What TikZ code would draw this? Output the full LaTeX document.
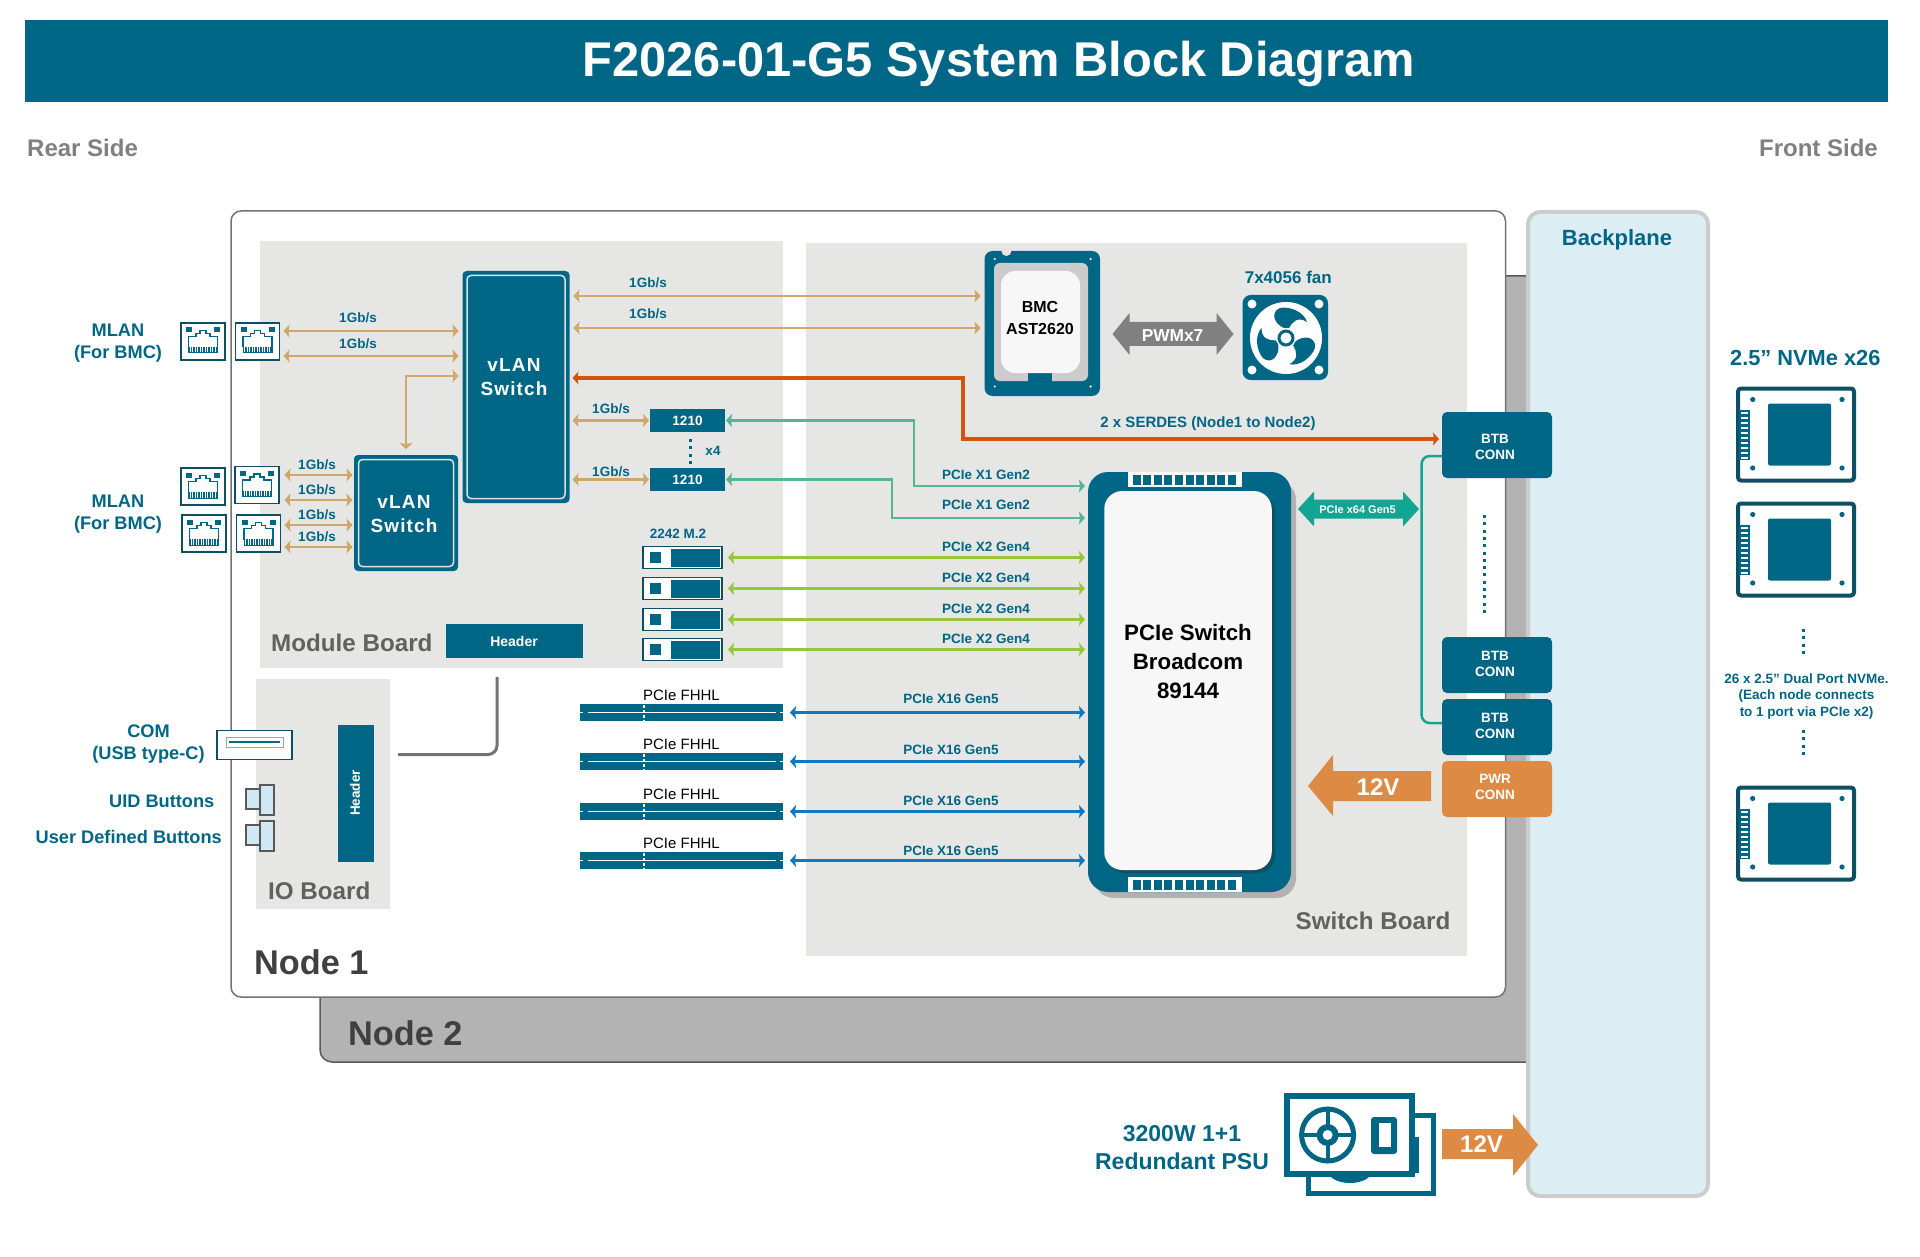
\documentclass[tikz,border=0pt]{standalone}
\usepackage{fontspec}
\setmainfont{Liberation Sans}
\usetikzlibrary{arrows.meta}

\definecolor{tealc}{HTML}{006685}
\definecolor{darkteal}{HTML}{0E4F63}
\definecolor{boardgray}{HTML}{E6E6E4}
\definecolor{nodegray}{HTML}{B3B3B3}
\definecolor{tanc}{HTML}{CFA66B}
\definecolor{serdesc}{HTML}{D2550D}
\definecolor{xonec}{HTML}{55B597}
\definecolor{xtwoc}{HTML}{96C63A}
\definecolor{xsixc}{HTML}{0F78C1}
\definecolor{fatc}{HTML}{12A594}
\definecolor{pwrc}{HTML}{DC8A44}
\definecolor{backc}{HTML}{DCEDF4}
\definecolor{btnc}{HTML}{CFE8F3}

\newcommand{\fs}[2]{\fontsize{#1}{#2}\selectfont}

\tikzset{
    x=1pt, y=-1pt,
    box/.style={inner sep=0pt, outer sep=0pt, fill=tealc},
    lbl/.style={inner sep=0pt, text=tealc, align=center, font=\bfseries\fs{13.5}{16}},
    midlbl/.style={lbl, font=\bfseries\fs{18.2}{22.5}},
    boardlbl/.style={inner sep=0pt, text=black!62, font=\bfseries\fs{24.2}{28}},
    nodelbl/.style={inner sep=0pt, text=black!75, font=\bfseries\fs{34.3}{38}},
    whitelbl/.style={inner sep=0pt, text=white, align=center, font=\bfseries\fs{13.5}{16}},
    rjbox/.style={inner sep=0pt, outer sep=0pt, fill=white, draw=darkteal, line width=1.8pt, minimum width=44pt, minimum height=37pt},
    mtwobox/.style={inner sep=0pt, outer sep=0pt, fill=white, draw=darkteal, line width=1.6pt, minimum width=79pt, minimum height=22pt},
    nvmebox/.style={inner sep=0pt, outer sep=0pt, fill=white, draw=darkteal, line width=4pt, rounded corners=3pt, minimum width=116pt, minimum height=92pt},
    link/.style={line width=2.9pt, {Stealth[length=6pt,width=13pt,inset=1pt]}-{Stealth[length=6pt,width=13pt,inset=1pt]}, shorten <=4pt, shorten >=4pt},
    dots/.style={line width=3pt, tealc, dash pattern=on 3pt off 4.3pt},
    rjjack/.pic={
        \fill[tealc] (-17,-14) rectangle (-11,-9);
        \fill[tealc] (11,-14) rectangle (17,-9);
        \draw[tealc, line width=1.2pt] (-14.5,6) -- (-14.5,-5) -- (-7,-5) -- (-7,-8) -- (-3,-8) -- (-3,-11) -- (3,-11) -- (3,-8) -- (7,-8) -- (7,-5) -- (14.5,-5) -- (14.5,6);
        \fill[tealc] (-15,5.5) rectangle (15,12);
        \foreach \i in {-13,-10.5,...,13}
            \draw[white, line width=0.8pt] (\i,5) -- (\i,11);
    },
    mtwoface/.pic={
        \fill[tealc] (-11.5,-9) rectangle (37.5,9);
        \fill[tealc] (-32.5,-6) rectangle (-21.5,5);
    },
    slotface/.pic={
        \draw[white, line width=1.8pt] (-94,0) -- (94,0);
        \draw[white, line width=1.8pt] (-101.5,0) -- (-98.5,0);
        \draw[white, line width=1.8pt] (98.5,0) -- (101.5,0);
        \draw[white, line width=1.4pt, dash pattern=on 3pt off 2pt] (-37.5,-8) -- (-37.5,8);
    },
    nvmeface/.pic={
        \fill[tealc, rounded corners=2pt] (-28,-31) rectangle (35,31);
        \foreach \px/\py in {-43.3/-35,46/-35,-43.3/33.5,46/33.5}
            \fill[tealc] (\px,\py) circle (2.6);
        \fill[tealc] (-57,-25) rectangle (-46,25);
        \foreach \py in {-23,-18,...,22}
            \fill[white] (-55,\py) rectangle (-48,\py+2.6);
    },
    fanblade/.pic={
        \fill[tealc] (-2,-10) .. controls (-12,-14) and (-16,-26) .. (-6,-30) .. controls (4,-32) and (18,-26) .. (21,-16) .. controls (12,-22) and (6,-16) .. (3,-10) -- cycle;
    }
}

\begin{document}
\begin{tikzpicture}
    \useasboundingbox (0,0) rectangle (1920,1257);

    \node (titlebar) [box, minimum width=1863pt, minimum height=82pt] at (956.5,61) {};
    \node (titletxt) [inner sep=0pt, text=white, font=\bfseries\fs{48.8}{54}] at (999,64) {F2026-01-G5 System Block Diagram};
    \node (rearlbl) [inner sep=0pt, anchor=west, text=black!50, font=\bfseries\fs{24}{28}] at (27,148) {Rear Side};
    \node (frontlbl) [inner sep=0pt, anchor=east, text=black!50, font=\bfseries\fs{24}{28}] at (1878,148) {Front Side};

    % chassis
    \draw[fill=nodegray, draw=black!65, line width=1.5pt, rounded corners=12pt] (320,276) rectangle (1560,1062);
    \draw[fill=white, draw=black!55, line width=1.5pt, rounded corners=10pt] (231,211) rectangle (1505.5,997);
    \draw[fill=backc, draw=black!20, line width=4pt, rounded corners=12pt] (1528,212) rectangle (1708,1196);
    \node (backlbl) [lbl, font=\bfseries\fs{22}{26}] at (1617,240) {Backplane};

    % boards
    \fill[boardgray] (260,241) rectangle (783,668);
    \fill[boardgray] (806,243) rectangle (1466.5,956);
    \fill[boardgray] (256,679) rectangle (390,909);
    \node (modlbl) [boardlbl, anchor=west] at (271,642.5) {Module Board};
    \node (swlbl) [boardlbl, anchor=east] at (1450.5,920.5) {Switch Board};
    \node (iolbl) [boardlbl, anchor=west] at (268,890.5) {IO Board};
    \node (nodeonelbl) [nodelbl, anchor=west] at (254,962) {Node 1};
    \node (nodetwolbl) [nodelbl, anchor=west] at (348,1033) {Node 2};

    % headers
    \node (hdrmod) [box, minimum width=137pt, minimum height=34pt, text=white, font=\bfseries\fs{14}{16}] at (514,641) {Header};
    \node (hdrio) [box, minimum width=36pt, minimum height=137pt] at (356,793.5) {};
    \node (hdriotxt) [rotate=90, inner sep=0pt, text=white, font=\bfseries\fs{13.5}{16}] at (355,793) {Header};
    \coordinate (ioend) at (398,754.5);
    \coordinate (modend) at (497,677);
    \draw[black!55, line width=3pt, rounded corners=9pt] (ioend) -| (modend);

    % left side
    \node (mlanone) [midlbl] at (118,343) {MLAN\\(For BMC)};
    \node (mlantwo) [midlbl] at (118,514) {MLAN\\(For BMC)};
    \foreach \n/\px/\py in {a/203/341.5, b/257.5/341.5, c/203/486.5, d/257/485, e/204/533.5, f/258.5/533.5} {
        \node (rj\n) [rjbox] at (\px,\py) {};
        \pic at (rj\n) {rjjack};
    }
    \node (comlbl) [midlbl] at (148.5,744) {COM\\(USB type-C)};
    \node (uidlbl) [midlbl, anchor=east] at (214.5,801) {UID Buttons};
    \node (userlbl) [midlbl, anchor=east] at (222,837) {User Defined Buttons};
    \node (usb) [rjbox, minimum width=75pt, minimum height=29pt] at (254.5,745) {};
    \draw[fill=white, draw=tealc!50, line width=1pt] (226.5,737) rectangle (283,747);
    \draw[tealc, line width=1.6pt] (229,742) -- (280,742);
    \foreach \py in {785,821} {
        \draw[fill=btnc, draw=black!65, line width=1.2pt] (246,\py+4) rectangle (260,\py+24);
        \draw[fill=btnc, draw=black!65, line width=1.2pt] (260,\py) rectangle (274,\py+30);
    }

    % vlan switches
    \node (vlanbig) [box, rounded corners=4pt, minimum width=107pt, minimum height=232pt] at (516,387) {};
    \draw[black!12, line width=1.5pt, rounded corners=4pt] (467,275.5) rectangle (565,498.5);
    \node (vlanbigtxt) [inner sep=0pt, text=white, align=center, font=\bfseries\fs{19}{23.5}\addfontfeatures{LetterSpace=6}] at (514,377) {vLAN\\Switch};
    \node (vlansmall) [box, rounded corners=4pt, minimum width=104pt, minimum height=116pt] at (406,513) {};
    \draw[black!12, line width=1.5pt, rounded corners=4pt] (358.5,459.5) rectangle (453.5,566.5);
    \node (vlansmalltxt) [inner sep=0pt, text=white, align=center, font=\bfseries\fs{19}{23.5}\addfontfeatures{LetterSpace=6}] at (404,514) {vLAN\\Switch};

    % 1Gb/s links
    \draw[link, tanc] (rjb.east |- 0,331) -- (vlanbig.west |- 0,331);
    \draw[link, tanc] (rjb.east |- 0,356) -- (vlanbig.west |- 0,356);
    \node (gba) [lbl] at (358,318) {1Gb/s};
    \node (gbb) [lbl] at (358,344) {1Gb/s};
    \draw[link, tanc, shorten >=6pt] (vlanbig.west |- 0,376) -| (vlansmall.north);
    \foreach \n/\py in {a/475,b/500,c/525,d/547} {
        \draw[link, tanc, shorten >=1.5pt] (rjf.east |- 0,\py) -- (vlansmall.west |- 0,\py);
        \node (gbs\n) [lbl] at (317,\py-10) {1Gb/s};
    }
    \node (bmc) [box, rounded corners=8pt, minimum width=115.5pt, minimum height=145pt] at (1042.25,323.5) {};
    \fill[boardgray] (1006.4,251) circle (5);
    \fill[black!20, rounded corners=6pt] (994,263) rectangle (1088,381);
    \fill[tealc] (1028,373) rectangle (1052,383);
    \node (bmccore) [box, fill=white!97!black, rounded corners=14pt, minimum width=79pt, minimum height=102pt] at (1040.5,322) {};
    \foreach \px/\py in {994.7/259,1090.6/259,994.7/386.5,1090.6/386.5}
        \fill[white] (\px,\py) circle (1.2);
    \node (bmctxt) [inner sep=0pt, align=center, font=\bfseries\fs{16}{22}] at (1040,318) {BMC\\AST2620};
    \draw[link, tanc] (vlanbig.east |- 0,296) -- (bmc.west |- 0,296);
    \draw[link, tanc] (vlanbig.east |- 0,328) -- (bmc.west |- 0,328);
    \node (gbc) [lbl] at (648,283) {1Gb/s};
    \node (gbd) [lbl] at (648,314) {1Gb/s};

    % 1210 controllers
    \node (ica) [box, minimum width=75pt, minimum height=23pt] at (687.5,420.5) {};
    \node (icb) [box, minimum width=75pt, minimum height=23pt] at (687.5,479.5) {};
    \node (icatxt) [whitelbl] at (ica) {1210};
    \node (icbtxt) [whitelbl] at (icb) {1210};
    \draw[dots] (690,439) -- (690,464);
    \node (xfour) [lbl] at (713,451) {x4};
    \draw[link, tanc, shorten <=3pt, shorten >=1pt] (vlanbig.east |- ica.west) -- (ica.west);
    \draw[link, tanc, shorten <=3pt, shorten >=1pt] (vlanbig.east |- icb.west) -- (icb.west);
    \node (gbe) [lbl] at (611,409) {1Gb/s};
    \node (gbf) [lbl] at (611,472) {1Gb/s};

    % pcie switch
    \fill[black!30, rounded corners=20pt] (1094,480) rectangle (1296,898);
    \node (pcisw) [box, rounded corners=20pt, minimum width=203pt, minimum height=420pt] at (1189.5,682) {};
    \fill[darkteal, rounded corners=18pt] (1108,494) rectangle (1275,873);
    \node (pcicore) [box, fill=white!97!black, rounded corners=18pt, minimum width=167.5pt, minimum height=379pt] at (1188,680.5) {};
    \node (pcitxt) [inner sep=0pt, align=center, font=\bfseries\fs{22.3}{29}] at (1188,662) {PCIe Switch\\Broadcom\\89144};
    \foreach \py in {472,877} {
        \fill[white] (1128,\py) rectangle (1242,\py+15);
        \foreach \i in {0,...,9}
            \fill[tealc] (1132.6+\i*10.6,\py+3) rectangle (1140.6+\i*10.6,\py+13);
    }

    % pcie links
    \draw[link, xonec, shorten <=1pt, shorten >=3pt] (ica.east) -| (914,486) -- (pcisw.west |- 0,486);
    \draw[link, xonec, shorten <=1pt, shorten >=3pt] (icb.east) -| (892,518) -- (pcisw.west |- 0,518);
    \node (xonea) [lbl] at (986,475) {PCIe X1 Gen2};
    \node (xoneb) [lbl] at (986,505) {PCIe X1 Gen2};
    \node (mtwolbl) [lbl] at (678,534) {2242 M.2};
    \foreach \n/\py in {a/557.5,b/588.5,c/619.5,d/649.5} {
        \node (mtwo\n) [mtwobox] at (682.5,\py) {};
        \pic at (mtwo\n) {mtwoface};
        \draw[link, xtwoc, shorten <=6pt, shorten >=3pt] (mtwo\n.east) -- (pcisw.west |- mtwo\n.east);
        \node (xtwo\n) [lbl] at (986,\py-10.5) {PCIe X2 Gen4};
    }
    \foreach \n/\py/\ly in {a/712.5/699, b/761.5/749.5, c/811.5/800.5, d/860.5/850.5} {
        \node (slot\n) [box, minimum width=203pt, minimum height=17pt] at (681.5,\py) {};
        \pic at (slot\n) {slotface};
        \node (fhhl\n) [inner sep=0pt, font=\fs{15}{18}] at (681.5,\py-17) {PCIe FHHL};
        \draw[link, xsixc, shorten <=7pt, shorten >=3pt] (slot\n.east) -- (pcisw.west |- slot\n.east);
        \node (xsix\n) [lbl] at (951,\ly) {PCIe X16 Gen5};
    }

    % connectors to backplane
    \node (btba) [box, rounded corners=5pt, minimum width=110pt, minimum height=66pt] at (1497,445) {};
    \node (btbb) [box, rounded corners=5pt, minimum width=110pt, minimum height=56pt] at (1497,665) {};
    \node (btbc) [box, rounded corners=5pt, minimum width=110pt, minimum height=56pt] at (1497,727) {};
    \node (pwr) [box, fill=pwrc, rounded corners=5pt, minimum width=110pt, minimum height=56pt] at (1497,789) {};
    \node (btbatxt) [whitelbl] at (1495,446.5) {BTB\\CONN};
    \node (btbbtxt) [whitelbl] at (1495,664) {BTB\\CONN};
    \node (btbctxt) [whitelbl] at (1495,725.5) {BTB\\CONN};
    \node (pwrtxt) [whitelbl] at (1495,787) {PWR\\CONN};
    \draw[dots] (1484.5,515) -- (1484.5,614);
    \draw[fatc, line width=2.5pt, rounded corners=8pt] (btba.west |- 0,456) -- (1421.6,456) -- (1421.6,723) -- (btbc.west |- 0,723);
    \draw[link, serdesc, line width=3.5pt, shorten <=3pt, shorten >=3pt] (vlanbig.east |- 0,378) -| (963,439) -- (btba.west |- 0,439);
    \node (serdeslbl) [lbl, font=\bfseries\fs{15}{18}] at (1208,423.5) {2 x SERDES (Node1 to Node2)};

    % fat arrows
    \fill[fatc] (1298,509) -- (1314,491.5) -- (1314,499.5) -- (1403,499.5) -- (1403,491.5) -- (1419,509) -- (1403,526.5) -- (1403,518.5) -- (1314,518.5) -- (1314,526.5) -- cycle;
    \node (fatlbl) [inner sep=0pt, text=white, font=\bfseries\fs{11}{13}] at (1357.5,509.5) {PCIe x64 Gen5};
    \fill[black!50] (1112.5,334) -- (1129.5,313) -- (1129.5,322) -- (1216.5,322) -- (1216.5,313) -- (1233.5,334) -- (1216.5,355) -- (1216.5,346) -- (1129.5,346) -- (1129.5,355) -- cycle;
    \node (pwmlbl) [inner sep=0pt, text=white, font=\bfseries\fs{17.3}{20}] at (1172.5,336) {PWMx7};
    \fill[pwrc] (1308,786) -- (1333,755) -- (1333,771) -- (1431,771) -- (1431,801) -- (1333,801) -- (1333,816) -- cycle;
    \node (vinlbl) [inner sep=0pt, text=white, font=\bfseries\fs{24}{26}] at (1378,787) {12V};

    % fan
    \node (fan) [box, rounded corners=8pt, minimum width=85.4pt, minimum height=85pt] at (1285.3,337.5) {};
    \node (fanlbl) [lbl, font=\bfseries\fs{17}{20}] at (1288.3,277) {7x4056 fan};
    \fill[white] (1286,338) circle (36);
    \foreach \px/\py in {1252/304,1319/304,1252/370,1319/370}
        \fill[white] (\px,\py) circle (4.5);
    \foreach \r in {0,120,240}
        \pic[rotate=\r] at (1286,338) {fanblade};
    \draw[tealc, line width=3pt] (1286,338) circle (7);

    % nvme side
    \node (nvmelbl) [lbl, font=\bfseries\fs{21.8}{25}] at (1805.3,358) {2.5” NVMe x26};
    \foreach \n/\py in {a/434.5,b/549.5,c/833.5} {
        \node (nvme\n) [nvmebox] at (1796,\py) {};
        \pic at (nvme\n) {nvmeface};
    }
    \draw[dots] (1803,629) -- (1803,654);
    \node (nvmetxt) [lbl, font=\bfseries\fs{13.5}{16.5}] at (1806.5,696.5) {26 x 2.5” Dual Port NVMe.\\(Each node connects\\to 1 port via PCIe x2)};
    \draw[dots] (1803,730) -- (1803,755);

    % psu
    \draw[fill=white, draw=tealc, line width=5pt] (1308.5,1115.5) rectangle (1433.5,1193.5);
    \fill[tealc] (1350,1171) ellipse (22 and 12);
    \draw[fill=white, draw=tealc, line width=6pt] (1287,1096) rectangle (1412,1174);
    \fill[tealc] (1412,1137) rectangle (1419,1173);
    \draw[tealc, line width=5pt] (1327.6,1135) circle (26);
    \foreach \a in {0,90,180,270}
        \draw[tealc, line width=4pt] (1327.6,1135) -- ++(\a:26);
    \fill[tealc] (1327.6,1135) circle (11);
    \fill[white] (1327.6,1135) circle (5);
    \fill[tealc, rounded corners=3pt] (1371,1117) rectangle (1397,1154);
    \fill[white] (1379,1123) rectangle (1390.5,1147);
    \node (psulbl) [lbl, font=\bfseries\fs{23}{28}] at (1182,1148) {3200W 1+1\\Redundant PSU};
    \fill[pwrc] (1442,1129) -- (1513,1129) -- (1513,1114) -- (1538,1145) -- (1513,1176) -- (1513,1159) -- (1442,1159) -- cycle;
    \node (voutlbl) [inner sep=0pt, text=white, font=\bfseries\fs{24}{26}] at (1481.5,1144) {12V};
\end{tikzpicture}
\end{document}
